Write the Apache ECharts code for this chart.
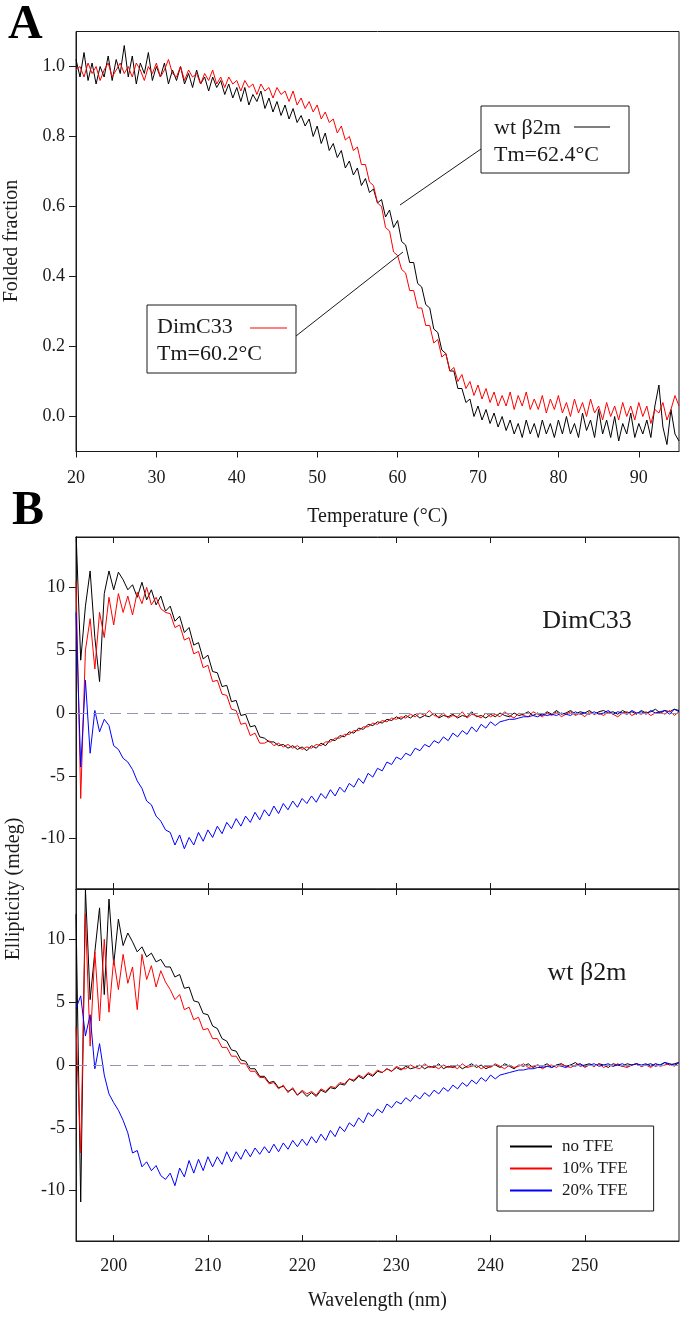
<!DOCTYPE html>
<html><head><meta charset="utf-8">
<script src="https://cdn.jsdelivr.net/npm/echarts@6/dist/echarts.min.js"></script>
<style>html,body{margin:0;padding:0;background:#fff}#c{width:685px;height:1319px}</style>
</head><body><div id="c"></div>
<script>
// ---------- Panel A: thermal unfolding (x = 20 + 0.5*i °C) ----------
const tempStart = 20, tempStep = 0.5;
const wtFolded = [
 1.02,0.97,1.04,0.96,1.01,0.95,1.00,0.97,1.03,0.96,
 1.02,0.98,1.06,0.97,1.03,0.95,1.01,0.98,1.04,0.96,
 1.00,0.97,1.01,0.95,0.99,0.96,1.00,0.95,0.98,0.94,
 0.99,0.95,0.97,0.93,0.97,0.94,0.96,0.92,0.95,0.91,
 0.94,0.90,0.94,0.89,0.92,0.90,0.93,0.88,0.91,0.87,
 0.90,0.86,0.89,0.85,0.88,0.84,0.86,0.83,0.85,0.80,
 0.83,0.78,0.81,0.76,0.78,0.74,0.76,0.71,0.73,0.69,
 0.71,0.66,0.68,0.64,0.65,0.61,0.62,0.57,0.59,0.54,
 0.56,0.50,0.49,0.44,0.44,0.38,0.37,0.32,0.31,0.25,
 0.24,0.19,0.18,0.13,0.13,0.08,0.08,0.04,0.05,0.00,
 0.03,-0.01,0.02,-0.02,0.01,-0.03,0.00,-0.04,-0.01,-0.05,
 -0.02,-0.06,-0.01,-0.05,-0.02,-0.06,-0.01,-0.05,-0.02,-0.06,
 -0.01,-0.05,0.00,-0.05,-0.02,-0.06,0.01,-0.04,-0.01,-0.06,
 0.02,-0.05,-0.01,-0.06,0.00,-0.07,-0.02,-0.05,0.01,-0.06,
 -0.02,-0.05,-0.01,-0.06,0.03,0.09,-0.03,-0.08,0.02,-0.05,
 -0.07];
const dimFolded = [
 0.99,1.00,0.97,1.01,0.98,1.00,0.96,0.99,1.01,0.97,
 0.99,1.01,0.98,1.00,0.97,1.01,0.99,0.96,1.00,0.98,
 1.01,0.97,0.99,1.02,0.98,0.97,1.00,0.96,0.99,0.97,
 0.98,0.95,0.98,0.96,0.99,0.95,0.97,0.94,0.97,0.95,
 0.96,0.93,0.96,0.94,0.95,0.92,0.95,0.93,0.94,0.91,
 0.94,0.92,0.93,0.90,0.93,0.89,0.91,0.88,0.90,0.87,
 0.89,0.85,0.87,0.84,0.85,0.81,0.83,0.79,0.80,0.76,
 0.77,0.72,0.72,0.67,0.66,0.61,0.60,0.54,0.53,0.47,
 0.46,0.42,0.41,0.36,0.36,0.31,0.31,0.26,0.26,0.21,
 0.22,0.17,0.18,0.13,0.14,0.10,0.12,0.08,0.10,0.06,
 0.09,0.05,0.08,0.04,0.07,0.03,0.06,0.03,0.07,0.02,
 0.06,0.03,0.07,0.02,0.05,0.02,0.06,0.01,0.05,0.02,
 0.06,0.01,0.04,0.00,0.05,0.01,0.04,0.00,0.05,0.01,
 0.03,-0.01,0.04,0.00,0.03,-0.01,0.04,0.00,0.03,-0.01,
 0.04,0.00,0.03,-0.02,0.02,0.01,0.04,-0.01,0.02,0.06,
 0.03];

// ---------- Panel B: CD spectra (x = 196 + 0.5*i nm) ----------
const wlStart = 196, wlStep = 0.5;
const dimNoTFE = [
 14.5,4.2,8.5,11.3,6.0,2.5,9.5,11.3,9.8,11.2,
 10.6,9.8,10.2,9.2,10.4,9.0,9.8,8.6,9.3,8.1,
 8.5,7.3,7.7,6.4,6.8,5.4,5.6,4.3,4.6,3.3,
 3.2,2.1,2.2,0.9,1.0,-0.2,-0.1,-1.1,-1.0,-1.9,
 -2.0,-2.3,-2.3,-2.6,-2.5,-2.8,-2.6,-2.9,-2.7,-3.0,
 -2.6,-2.8,-2.4,-2.6,-2.1,-2.2,-1.8,-1.9,-1.5,-1.6,
 -1.2,-1.3,-0.9,-1.0,-0.7,-0.8,-0.5,-0.6,-0.3,-0.5,
 -0.2,-0.4,-0.1,-0.4,-0.2,-0.3,0.0,-0.4,-0.2,-0.3,
 -0.1,-0.4,-0.2,-0.3,0.1,-0.3,-0.2,-0.4,-0.1,-0.3,
 0.0,-0.2,-0.3,0.0,-0.2,-0.1,0.1,-0.2,0.0,-0.2,
 0.1,-0.1,0.2,-0.1,0.0,0.2,-0.1,0.1,0.0,0.2,
 -0.1,0.1,0.2,0.0,0.1,-0.1,0.2,0.0,0.1,-0.1,
 0.2,0.0,0.1,0.3,0.0,0.2,0.1,0.3,0.2];
const dim10TFE = [
 10.5,-6.8,5.0,7.5,3.5,8.0,6.0,9.2,7.0,9.5,
 8.0,9.3,7.8,9.6,8.7,10.0,8.6,9.2,8.3,8.0,
 7.9,6.8,7.0,5.8,6.0,4.7,4.9,3.6,3.8,2.5,
 2.6,1.5,1.4,0.3,0.2,-0.9,-0.8,-1.8,-1.6,-2.4,
 -2.4,-2.2,-2.6,-2.4,-2.7,-2.5,-2.8,-2.6,-2.9,-2.7,
 -2.8,-2.5,-2.6,-2.3,-2.3,-2.0,-2.0,-1.7,-1.7,-1.4,
 -1.4,-1.1,-1.1,-0.8,-0.9,-0.6,-0.7,-0.4,-0.5,-0.3,
 -0.4,-0.1,-0.3,0.0,-0.2,0.2,-0.2,-0.3,0.0,-0.4,
 -0.2,-0.3,0.1,-0.4,-0.1,-0.2,-0.4,0.0,-0.3,-0.1,
 -0.3,0.1,-0.2,-0.4,0.0,-0.2,-0.3,0.1,-0.1,-0.3,
 0.0,-0.2,0.1,-0.3,-0.1,0.1,-0.2,0.0,-0.3,0.1,
 -0.1,0.0,-0.2,0.1,-0.1,-0.3,0.0,0.1,-0.2,0.0,
 -0.1,0.1,-0.2,0.0,0.1,-0.1,0.2,-0.2,0.1];
const dim20TFE = [
 8.0,-4.3,2.6,-3.2,0.2,-1.5,-0.5,-1.0,-2.6,-2.9,
 -3.6,-3.9,-4.5,-5.4,-6.0,-7.0,-7.3,-8.2,-8.6,-9.3,
 -9.5,-10.5,-9.7,-10.8,-9.9,-10.5,-9.5,-10.2,-9.3,-9.9,
 -9.0,-9.6,-8.7,-9.2,-8.4,-9.0,-8.2,-8.7,-7.9,-8.5,
 -7.7,-8.2,-7.4,-8.0,-7.2,-7.7,-7.0,-7.5,-6.8,-7.2,
 -6.6,-7.1,-6.4,-6.8,-6.1,-6.6,-5.9,-6.3,-5.6,-5.9,
 -5.2,-5.6,-4.8,-5.1,-4.4,-4.6,-3.9,-4.1,-3.5,-3.7,
 -3.2,-3.4,-2.8,-3.0,-2.5,-2.7,-2.2,-2.4,-1.9,-2.2,
 -1.6,-1.9,-1.4,-1.7,-1.1,-1.5,-0.9,-1.2,-0.7,-1.0,
 -0.7,-0.6,-0.5,-0.5,-0.4,-0.3,-0.3,-0.2,-0.3,-0.1,
 -0.2,-0.1,-0.2,0.0,-0.1,-0.2,0.1,-0.1,0.0,-0.1,
 0.1,-0.1,0.0,0.2,-0.1,0.1,0.0,-0.1,0.2,0.0,
 0.1,-0.1,0.2,0.0,0.1,0.2,-0.1,0.3,0.1];
const wtNoTFE = [
 12.0,-10.9,14.0,5.2,9.0,12.5,5.6,13.2,8.0,11.6,
 9.5,10.5,9.8,9.0,9.4,8.6,8.9,8.2,8.4,7.8,
 7.8,7.0,7.2,6.1,6.2,5.1,5.0,4.1,4.0,3.1,
 2.9,2.1,1.9,1.2,1.1,0.4,0.3,-0.3,-0.3,-0.9,
 -0.9,-1.4,-1.3,-1.8,-1.7,-2.1,-1.9,-2.4,-2.1,-2.5,
 -2.2,-2.5,-2.0,-2.2,-1.8,-1.9,-1.5,-1.6,-1.1,-1.3,
 -0.9,-1.1,-0.7,-0.9,-0.5,-0.6,-0.3,-0.5,-0.2,-0.4,
 -0.1,-0.3,-0.2,0.0,-0.3,-0.1,-0.2,0.1,-0.3,-0.1,
 -0.2,0.0,-0.3,-0.1,0.1,-0.2,0.0,-0.3,-0.1,0.0,
 -0.2,0.1,-0.1,-0.3,0.0,-0.1,0.1,-0.2,0.0,-0.1,
 0.1,-0.2,0.0,0.1,-0.1,0.0,0.2,-0.1,0.0,0.1,
 -0.1,0.1,0.0,-0.2,0.1,0.0,-0.1,0.1,0.0,0.1,
 -0.1,0.0,0.1,-0.1,0.0,0.2,0.0,0.1,0.2];
const wt10TFE = [
 3.0,-7.0,12.0,1.5,9.0,3.5,10.0,4.2,8.4,6.0,
 8.8,6.5,7.8,4.4,8.8,6.8,7.9,6.2,7.5,6.6,
 6.0,5.2,5.6,4.4,4.6,3.6,3.8,2.8,2.9,2.1,
 2.1,1.4,1.4,0.7,0.7,0.1,0.1,-0.5,-0.5,-1.0,
 -1.0,-1.5,-1.4,-1.9,-1.6,-2.2,-1.8,-2.4,-2.0,-2.3,
 -2.1,-2.4,-1.9,-2.1,-1.7,-1.8,-1.4,-1.5,-1.1,-1.2,
 -0.8,-1.0,-0.6,-0.8,-0.4,-0.6,-0.3,-0.5,-0.1,-0.3,
 -0.3,0.0,-0.2,-0.3,0.1,-0.2,-0.1,-0.3,0.0,-0.2,
 -0.1,-0.3,0.1,-0.2,-0.1,0.0,-0.3,-0.1,-0.2,0.1,
 -0.1,-0.3,0.0,-0.2,-0.1,0.1,-0.2,-0.1,0.0,-0.3,
 -0.1,0.0,-0.2,0.1,-0.1,-0.2,0.0,0.1,-0.2,0.0,
 -0.1,0.1,-0.2,0.0,-0.1,0.1,-0.1,-0.2,0.0,0.1,
 -0.1,0.0,-0.2,0.1,-0.1,0.0,0.1,-0.1,0.2];
const wt20TFE = [
 4.5,5.5,2.3,4.0,-0.3,1.7,-0.8,-2.3,-3.0,-3.6,
 -4.4,-5.4,-7.0,-6.8,-8.1,-7.7,-8.4,-8.0,-8.8,-9.1,
 -8.6,-9.6,-8.2,-8.9,-7.6,-8.6,-7.5,-8.4,-7.3,-8.1,
 -7.3,-7.9,-6.9,-7.7,-6.9,-7.5,-6.7,-7.3,-6.6,-7.1,
 -6.5,-7.0,-6.3,-6.9,-6.2,-6.7,-6.0,-6.5,-5.9,-6.4,
 -5.7,-6.2,-5.5,-6.0,-5.2,-5.7,-4.9,-5.3,-4.6,-4.9,
 -4.2,-4.6,-3.8,-4.1,-3.5,-3.8,-3.1,-3.4,-2.9,-3.1,
 -2.6,-2.9,-2.4,-2.7,-2.2,-2.5,-2.0,-2.3,-1.8,-2.1,
 -1.6,-1.9,-1.4,-1.7,-1.2,-1.5,-1.0,-1.3,-0.8,-1.1,
 -0.8,-0.7,-0.6,-0.5,-0.4,-0.4,-0.3,-0.3,-0.2,-0.2,
 -0.1,-0.2,0.0,-0.1,-0.2,0.0,-0.1,0.1,-0.1,0.0,
 0.1,-0.1,0.0,0.1,-0.1,0.0,0.1,-0.1,0.0,0.1,
 0.0,0.1,-0.1,0.1,0.0,0.2,0.1,0.0,0.2];

// ---------- tick labels ----------
const tempTicks = [20,30,40,50,60,70,80,90];
const foldTicks = [0,0.2,0.4,0.6,0.8,1.0];
const wlTicks = [200,210,220,230,240,250];
const ellipTicks = [-10,-5,0,5,10];
const legendNames = ['no TFE','10% TFE','20% TFE'];

const FONT = 'Liberation Serif, Times New Roman, serif';
const INK = '#1a1a1a';
const TICK_FS = 18;
const pairs = (s, st, arr) => arr.map((v, i) => [s + st * i, v]);

const chart = echarts.init(document.getElementById('c'), null, {renderer: 'canvas'});

const gridBase = {show: true, borderColor: INK, borderWidth: 1, backgroundColor: 'transparent',
                  containLabel: false, outerBoundsMode: 'none'};
const gridA = Object.assign({left: 76, top: 31.5, width: 603, height: 420}, gridBase);
const gridB1 = Object.assign({left: 76, top: 537, width: 603, height: 352}, gridBase);
const gridB2 = Object.assign({left: 76, top: 889, width: 603, height: 352}, gridBase);

function xAxisB(grid, pos, withLabels) {
  return {
    gridIndex: grid, type: 'value', min: 196, max: 260, position: pos,
    axisLine: {show: true, onZero: false, lineStyle: {color: INK, width: 1}},
    axisTick: {show: true, inside: true, length: 6, customValues: wlTicks, lineStyle: {color: INK}},
    axisLabel: withLabels ? {show: true, customValues: wlTicks, margin: 16, fontFamily: FONT, fontSize: TICK_FS, color: INK}
                          : {show: false},
    splitLine: {show: false},
    name: withLabels ? 'Wavelength (nm)' : '',
    nameLocation: 'middle', nameGap: 50,
    nameTextStyle: {fontFamily: FONT, fontSize: 20, color: INK}
  };
}
function yAxisB(grid) {
  return {
    gridIndex: grid, type: 'value', min: -14, max: 14,
    axisLine: {show: true, onZero: false, lineStyle: {color: INK, width: 1}},
    axisTick: {show: true, inside: false, length: 7, customValues: ellipTicks, lineStyle: {color: INK}},
    axisLabel: {customValues: ellipTicks, margin: 11, fontFamily: FONT, fontSize: TICK_FS, color: INK},
    splitLine: {show: false}
  };
}
const zeroLine = {
  silent: true, symbol: 'none', label: {show: false},
  lineStyle: {color: '#9494b4', type: [11, 6], width: 1.2},
  data: [{yAxis: 0}]
};
function lineSeries(name, data, color, xi, yi, extra) {
  return Object.assign({
    name, type: 'line', data, xAxisIndex: xi, yAxisIndex: yi,
    showSymbol: false, symbol: 'none', animation: false,
    lineStyle: {color, width: 1}, itemStyle: {color}, z: 2
  }, extra || {});
}

const option = {
  backgroundColor: '#fff',
  animation: false,
  grid: [gridA, gridB1, gridB2],
  xAxis: [
    {gridIndex: 0, type: 'value', min: 20, max: 95, position: 'bottom',
     axisLine: {show: true, onZero: false, lineStyle: {color: INK, width: 1}},
     axisTick: {show: true, inside: false, length: 6, customValues: tempTicks, lineStyle: {color: INK}},
     axisLabel: {customValues: tempTicks, margin: 18, fontFamily: FONT, fontSize: TICK_FS, color: INK},
     splitLine: {show: false},
     name: 'Temperature (°C)', nameLocation: 'middle', nameGap: 55,
     nameTextStyle: {fontFamily: FONT, fontSize: 20, color: INK}},
    xAxisB(1, 'bottom', false),
    xAxisB(1, 'top', false),
    xAxisB(2, 'bottom', true),
    xAxisB(2, 'top', false)
  ],
  yAxis: [
    {gridIndex: 0, type: 'value', min: -0.1, max: 1.1,
     axisLine: {show: true, onZero: false, lineStyle: {color: INK, width: 1}},
     axisTick: {show: true, inside: false, length: 7, customValues: foldTicks, lineStyle: {color: INK}},
     axisLabel: {customValues: foldTicks, margin: 11, fontFamily: FONT, fontSize: TICK_FS, color: INK,
                 formatter: v => Number(v).toFixed(1)},
     splitLine: {show: false}},
    yAxisB(1),
    yAxisB(2)
  ],
  legend: {
    orient: 'vertical', left: 497, top: 1126,
    data: legendNames, icon: 'rect', itemWidth: 42, itemHeight: 2, itemGap: 5,
    padding: [12, 26, 12, 13], borderColor: INK, borderWidth: 1, backgroundColor: '#fff',
    textStyle: {fontFamily: FONT, fontSize: 17, color: INK, padding: [0, 0, 0, 5]},
    selectedMode: false
  },
  series: [
    lineSeries('wt β2m', pairs(tempStart, tempStep, wtFolded), '#000000', 0, 0),
    lineSeries('DimC33', pairs(tempStart, tempStep, dimFolded), '#ff0000', 0, 0),

    lineSeries('no TFE', pairs(wlStart, wlStep, dimNoTFE), '#000000', 1, 1, {z: 1, markLine: zeroLine}),
    lineSeries('10% TFE', pairs(wlStart, wlStep, dim10TFE), '#ff0000', 1, 1),
    lineSeries('20% TFE', pairs(wlStart, wlStep, dim20TFE), '#0000ff', 1, 1),

    lineSeries('no TFE', pairs(wlStart, wlStep, wtNoTFE), '#000000', 3, 2, {z: 1, markLine: zeroLine}),
    lineSeries('10% TFE', pairs(wlStart, wlStep, wt10TFE), '#ff0000', 3, 2),
    lineSeries('20% TFE', pairs(wlStart, wlStep, wt20TFE), '#0000ff', 3, 2)
  ],
  graphic: [
    {type: 'text', left: 8, top: 2, style: {text: 'A', font: 'bold 48px ' + FONT, fill: '#000'}},
    {type: 'text', left: 12, top: 488, style: {text: 'B', font: 'bold 48px ' + FONT, fill: '#000'}},
    {type: 'text', x: 12, y: 241, rotation: Math.PI / 2,
     style: {text: 'Folded fraction', font: '20px ' + FONT, fill: INK, align: 'center', verticalAlign: 'middle'}},
    {type: 'text', x: 14, y: 889, rotation: Math.PI / 2,
     style: {text: 'Ellipticity (mdeg)', font: '20px ' + FONT, fill: INK, align: 'center', verticalAlign: 'middle'}},
    {type: 'text', x: 587, y: 621,
     style: {text: 'DimC33', font: '26px ' + FONT, fill: INK, align: 'center', verticalAlign: 'middle'}},
    {type: 'text', x: 587, y: 973,
     style: {text: 'wt β2m', font: '26px ' + FONT, fill: INK, align: 'center', verticalAlign: 'middle'}},
    // callout: wt β2m
    {type: 'line', z: 50, shape: {x1: 400, y1: 205, x2: 481, y2: 149}, style: {stroke: INK, lineWidth: 1}},
    {type: 'rect', z: 50, shape: {x: 481, y: 106, width: 148, height: 67}, style: {fill: '#fff', stroke: INK, lineWidth: 1}},
    {type: 'text', z: 51, x: 494, y: 128, style: {text: 'wt β2m', font: '22px ' + FONT, fill: INK, verticalAlign: 'middle'}},
    {type: 'line', z: 51, shape: {x1: 574, y1: 127, x2: 610, y2: 127}, style: {stroke: '#000', lineWidth: 1.2}},
    {type: 'text', z: 51, x: 494, y: 155, style: {text: 'Tm=62.4°C', font: '22px ' + FONT, fill: INK, verticalAlign: 'middle'}},
    // callout: DimC33
    {type: 'line', z: 50, shape: {x1: 296, y1: 336, x2: 403, y2: 252}, style: {stroke: INK, lineWidth: 1}},
    {type: 'rect', z: 50, shape: {x: 147, y: 305, width: 149, height: 68}, style: {fill: '#fff', stroke: INK, lineWidth: 1}},
    {type: 'text', z: 51, x: 157, y: 327, style: {text: 'DimC33', font: '22px ' + FONT, fill: INK, verticalAlign: 'middle'}},
    {type: 'line', z: 51, shape: {x1: 250, y1: 328, x2: 287, y2: 328}, style: {stroke: '#ff0000', lineWidth: 1.2}},
    {type: 'text', z: 51, x: 157, y: 354, style: {text: 'Tm=60.2°C', font: '22px ' + FONT, fill: INK, verticalAlign: 'middle'}}
  ]
};
chart.setOption(option);
</script></body></html>
